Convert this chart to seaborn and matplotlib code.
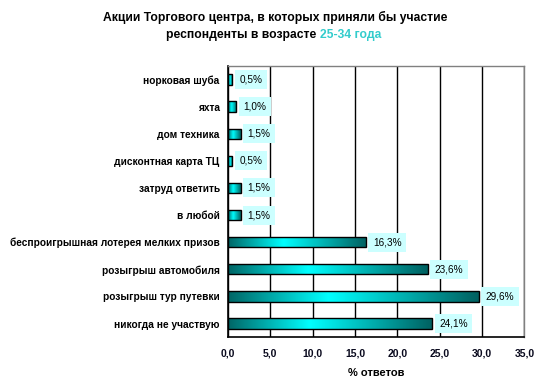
import numpy as np
import pandas as pd
import matplotlib
matplotlib.use("Agg")
import matplotlib.pyplot as plt
from matplotlib.colors import LinearSegmentedColormap
import seaborn as sns

# Chart data (top to bottom)
categories = [
    "норковая шуба",
    "яхта",
    "дом техника",
    "дисконтная карта ТЦ",
    "затруд ответить",
    "в любой",
    "беспроигрышная лотерея мелких призов",
    "розыгрыш автомобиля",
    "розыгрыш тур путевки",
    "никогда не участвую",
]
values = [0.5, 1.0, 1.5, 0.5, 1.5, 1.5, 16.3, 23.6, 29.6, 24.1]
value_labels = ["0,5%", "1,0%", "1,5%", "0,5%", "1,5%", "1,5%", "16,3%", "23,6%", "29,6%", "24,1%"]
x_ticks = [0, 5, 10, 15, 20, 25, 30, 35]
x_tick_labels = ["0,0", "5,0", "10,0", "15,0", "20,0", "25,0", "30,0", "35,0"]

df = pd.DataFrame({"category": categories, "value": values})

sns.set_style("white")
plt.rcParams["font.family"] = ["Liberation Sans", "DejaVu Sans"]
plt.rcParams["text.color"] = "black"
plt.rcParams["axes.labelcolor"] = "black"

fig = plt.figure(figsize=(5.48, 3.92), dpi=100)
ax = fig.add_axes([0.416, 0.140, 0.541, 0.692])

sns.barplot(data=df, x="value", y="category", orient="h", color="#00e5e5",
            width=0.38, edgecolor="black", linewidth=1.0, ax=ax, zorder=3)

# horizontal gradient: dark teal -> cyan -> dark teal
cmap = LinearSegmentedColormap.from_list(
    "teal", [(0.0, "#006666"), (0.4, "#00ffff"), (1.0, "#006060")])
grad = np.linspace(0, 1, 256).reshape(1, -1)
for p in ax.patches:
    x0, y0 = p.get_x(), p.get_y()
    w, h = p.get_width(), p.get_height()
    im = ax.imshow(grad, cmap=cmap, aspect="auto", extent=[x0, x0 + w, y0 + h, y0],
                   zorder=3.5, interpolation="bicubic")
    im.set_clip_path(p)
    p.set_facecolor("none")
    p.set_zorder(4)

for i, (v, lab) in enumerate(zip(values, value_labels)):
    ax.annotate(lab, xy=(v, i), xytext=(5, 0), textcoords="offset points",
                ha="left", va="center", fontsize=7.2, color="black", zorder=5,
                bbox=dict(boxstyle="square,pad=0.45", fc="#ccffff", ec="none"))

ax.set_xlim(0, 35)
ax.set_ylim(9.5, -0.5)
ax.set_xticks(x_ticks)
ax.set_xticklabels(x_tick_labels, fontsize=7.5, fontweight="bold", color="#0a0a1e")
ax.set_yticks(range(len(categories)))
ax.set_yticklabels(categories, fontsize=7.25, fontweight="bold", color="black")
ax.set_yticks(np.arange(-0.5, 10, 1), minor=True)
ax.tick_params(axis="y", which="major", length=0, pad=6)
ax.tick_params(axis="y", which="minor", length=4, width=1, color="black", direction="out")
ax.tick_params(axis="x", length=4, width=1, color="black", direction="out", pad=4)

ax.grid(axis="x", color="black", linewidth=1.0, zorder=1)
ax.set_axisbelow(True)
ax.set_ylabel("")
ax.set_xlabel("% ответов", fontsize=8, fontweight="bold", labelpad=7, color="black")

for s in ["left", "bottom"]:
    ax.spines[s].set_color("black")
    ax.spines[s].set_linewidth(1.2)
for s in ["top", "right"]:
    ax.spines[s].set_color("#808080")
    ax.spines[s].set_linewidth(1.0)

fig.text(0.502, 0.955, "Акции Торгового центра, в которых приняли бы участие",
         ha="center", va="center", fontsize=8.7, fontweight="bold", color="black")
fig.text(0.5835, 0.911, "респонденты в возрасте ", ha="right", va="center",
         fontsize=8.7, fontweight="bold", color="black")
fig.text(0.5835, 0.911, "25-34 года", ha="left", va="center",
         fontsize=8.7, fontweight="bold", color="#33cccc")

fig.savefig("out.png", dpi=100)
